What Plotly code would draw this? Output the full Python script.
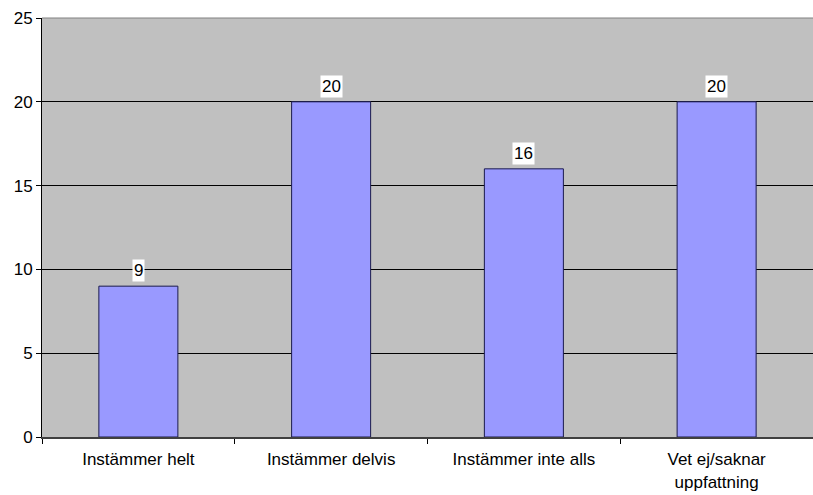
import plotly.graph_objects as go

categories = ["Instämmer helt", "Instämmer delvis", "Instämmer inte alls", "Vet ej/saknar<br>uppfattning"]
values = [9, 20, 16, 20]
y_ticks = [0, 5, 10, 15, 20, 25]

FONT = "Liberation Sans, Arial"

fig = go.Figure()
fig.add_trace(go.Bar(
    x=categories, y=values,
    marker=dict(color="#9999FF", line=dict(color="#1a1a4d", width=1)),
    width=0.41,
))
for c, v in zip(categories, values):
    fig.add_annotation(x=c, y=v, text=str(v), showarrow=False, yanchor="bottom", yshift=4,
                       bgcolor="white", borderpad=1,
                       font=dict(family=FONT, size=17, color="black"))

fig.update_layout(
    width=813, height=495,
    margin=dict(l=42, r=0, t=18, b=58, autoexpand=False),
    plot_bgcolor="#C0C0C0", paper_bgcolor="white",
    font=dict(family=FONT, size=17, color="black"),
    showlegend=False,
    xaxis=dict(showgrid=False, ticks="outside", tickson="boundaries", ticklen=5, tickcolor="black",
               showline=True, linecolor="#404040", linewidth=2, tickfont=dict(size=17),
               ticklabelstandoff=6, automargin=False),
    yaxis=dict(range=[0, 25], tickvals=y_ticks, showgrid=True, gridcolor="black", gridwidth=1,
               ticks="outside", ticklen=5, tickcolor="black", showline=True, linecolor="black",
               linewidth=1, zeroline=False, tickfont=dict(size=17), automargin=False),
    shapes=[dict(type="line", xref="paper", yref="paper", x0=0, x1=1, y0=1, y1=1,
                 line=dict(color="#808080", width=1))],
)
fig.write_html("out.html", config={"responsive": False, "displayModeBar": False},
               post_script="document.body.style.margin='0px';document.body.style.overflow='hidden';")
